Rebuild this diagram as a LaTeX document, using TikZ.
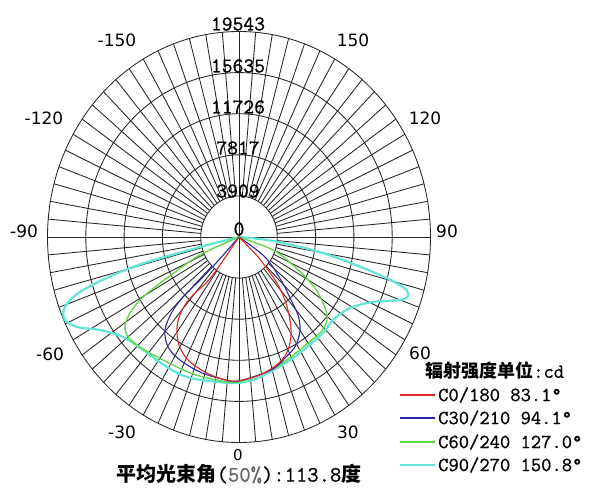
\documentclass[tikz,border=0pt]{standalone}
\usepackage{fontspec}
\newfontfamily\numfont{DejaVu Sans}
\newfontfamily\cjkfont{Noto Sans CJK SC}
\newfontfamily\legfont{Latin Modern Mono}[FakeBold=0.8]
\definecolor{cred}{RGB}{225,40,40}
\definecolor{cblue}{RGB}{40,40,175}
\definecolor{cgreen}{RGB}{95,215,65}
\definecolor{ccyan}{RGB}{95,230,215}
\tikzset{
  gridline/.style={line width=0.85pt, black!85},
  ringlabel/.style={font=\legfont\fontsize{21}{21}\selectfont, inner sep=0pt},
  anglelabel/.style={font=\numfont\fontsize{17}{17}\selectfont, inner sep=0pt},
  beam/.style={smooth, tension=0.55, line join=round},
  legtext/.style={font=\legfont\fontsize{20}{20}\selectfont, anchor=west, inner sep=0pt},
  legline/.style={line width=1.4pt},
}
\begin{document}
\begin{tikzpicture}[x=1pt,y=-1pt]
  \useasboundingbox (0,0) rectangle (592,488);
  \fill[white] (0,0) rectangle (592,488);
  \coordinate (O) at (239,237);
  % rings and rays
  \foreach \k in {1,...,5}
    \draw[gridline] (O) ellipse [x radius=38.3*\k, y radius=41.1*\k];
  \foreach \a in {0,5,...,355}
    \draw[gridline] ({239+38.3*sin(\a)},{237+41.1*cos(\a)}) -- ({239+191.5*sin(\a)},{237+205.5*cos(\a)});
  \draw[gridline] (239,31.5) -- (239,442.5);
  \draw[gridline] (47.5,237) -- (430.5,237);
  % ring values
  \node[ringlabel] (v0) at (239,229) {0};
  \node[ringlabel] (v1) at (238,191) {3909};
  \node[ringlabel] (v2) at (238,148) {7817};
  \node[ringlabel] (v3) at (238,107) {11726};
  \node[ringlabel] (v4) at (238,66) {15635};
  \node[ringlabel] (v5) at (238,24) {19543};
  % angles
  \foreach \t/\x/\y in {30/348/432, -30/122/432, 60/420/353, -60/50/354,
      90/447/231, -90/24/231, 120/425/118, -120/44/118, 150/353/40, -150/117/40}
    \node[anglelabel] (a\t) at (\x,\y) {\t};
  \node[anglelabel, font=\numfont\fontsize{15}{15}\selectfont] (a0) at (238,455) {0};
  % intensity curves
  \draw[beam, ccyan, line width=2.2pt] plot coordinates {(O) (200,247) (133,267) (83,290)
    (65,307) (65,320) (77,327) (100,330) (123,337) (143,350) (167,367) (187,377) (210,381)
    (238,383) (260,377) (290,360) (307,347) (323,333) (333,320) (350,308) (373,302)
    (400,300) (408,296) (403,287) (373,272) (323,253) (273,241) (O)};
  \draw[beam, cgreen, line width=1.3pt] plot coordinates {(O) (200,255) (167,278) (143,297)
    (130,313) (125,327) (129,338) (143,349) (167,362) (193,374) (217,380) (238,382)
    (271,370) (292,356) (308,343) (321,332) (327,320) (325,308) (315,288) (295,267)
    (273,250) (O)};
  \draw[beam, cblue, line width=1.1pt] plot coordinates {(O) (217,262) (200,280) (183,297)
    (172,312) (165,330) (168,347) (180,360) (200,372) (222,379) (238,381) (271,370)
    (287,356) (296,345) (300,330) (298,315) (291,300) (281,280) (265,257) (O)};
  \draw[beam, cred, line width=1.1pt] plot coordinates {(O) (222,262) (208,281) (193,295)
    (182,310) (177,327) (179,345) (188,360) (205,372) (222,379) (238,381) (262,374)
    (280,362) (288,350) (291,335) (290,320) (285,300) (275,280) (258,257) (O)};
  % legend
  \node[anchor=west, inner sep=0pt] (unit) at (425,371)
    {\cjkfont\bfseries\fontsize{18}{18}\selectfont 辐射强度单位{\mdseries\legfont\fontsize{20}{20}\selectfont:cd}};
  \node[legtext] (leg0) at (438,395) {C0/180 83.1°};
  \node[legtext] (leg30) at (438,418) {C30/210 94.1°};
  \node[legtext] (leg60) at (438,442) {C60/240 127.0°};
  \node[legtext] (leg90) at (438,465) {C90/270 150.8°};
  \draw[legline, cred] ([xshift=-38pt]leg0.west) -- ([xshift=-3pt]leg0.west);
  \draw[legline, cblue] ([xshift=-38pt]leg30.west) -- ([xshift=-3pt]leg30.west);
  \draw[legline, cgreen] ([xshift=-38pt]leg60.west) -- ([xshift=-3pt]leg60.west);
  \draw[legline, ccyan] ([xshift=-38pt]leg90.west) -- ([xshift=-3pt]leg90.west);
  % beam angle
  \node[inner sep=0pt] (beamangle) at (239,474)
    {\cjkfont\bfseries\fontsize{20}{20}\selectfont 平均光束角{\mdseries\legfont\fontsize{22}{22}\selectfont(\textcolor{black!60}{50\%}):113.8}度};
\end{tikzpicture}
\end{document}
